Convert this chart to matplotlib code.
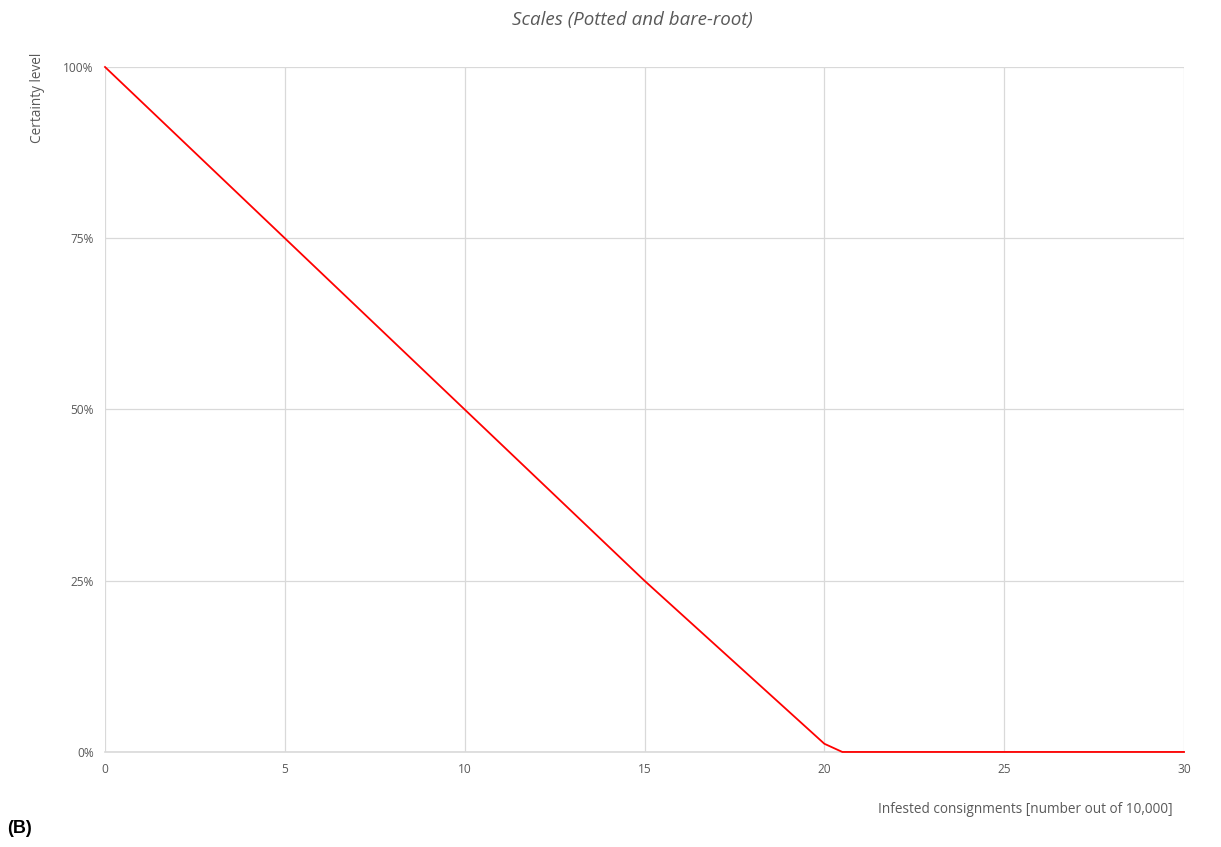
import matplotlib
matplotlib.use("Agg")
import matplotlib.pyplot as plt
from matplotlib.ticker import FuncFormatter

consignments = [0, 5, 10, 15, 20, 20.5, 25, 30]
certainty = [100, 75, 50, 25, 1.2, 0, 0, 0]
x_ticks = [0, 5, 10, 15, 20, 25, 30]
y_ticks = [0, 25, 50, 75, 100]

plt.rcParams['font.family'] = ['Open Sans', 'DejaVu Sans']
grey = '#595959'

fig = plt.figure(figsize=(12.21, 8.47), dpi=100)
ax = fig.add_axes([0.086, 0.1122, 0.8837, 0.8087])

ax.plot(consignments, certainty, color='#ff0000', linewidth=1.3, zorder=5, clip_on=False)

ax.set_xlim(0, 30)
ax.set_ylim(0, 100)
ax.set_xticks(x_ticks)
ax.set_yticks(y_ticks)
ax.yaxis.set_major_formatter(FuncFormatter(lambda v, p: f"{int(v)}%"))
ax.tick_params(length=0, labelsize=8.6, labelcolor=grey, pad=8)
ax.grid(True, color='#d9d9d9', linewidth=0.9)
ax.set_axisbelow(True)
for s in ['top', 'right', 'left']:
    ax.spines[s].set_visible(False)
ax.spines['bottom'].set_color('#d9d9d9')
ax.spines['bottom'].set_linewidth(1.2)
ax.spines['bottom'].set_zorder(1)

fig.text(0.518, 0.976, 'Scales (Potted and bare-root)', ha='center', va='center',
         fontsize=13.5, style='italic', color=grey)
fig.text(0.031, 0.938, 'Certainty level', rotation=90, ha='center', va='top',
         fontsize=9.8, color=grey)
fig.text(0.96, 0.044, 'Infested consignments [number out of 10,000]', ha='right', va='center',
         fontsize=9.8, color=grey)
fig.text(0.006, 0.022, '(B)', ha='left', va='center', fontsize=13, fontweight='bold',
         family=['Liberation Sans', 'DejaVu Sans'])

fig.savefig('out.png', dpi=100)
